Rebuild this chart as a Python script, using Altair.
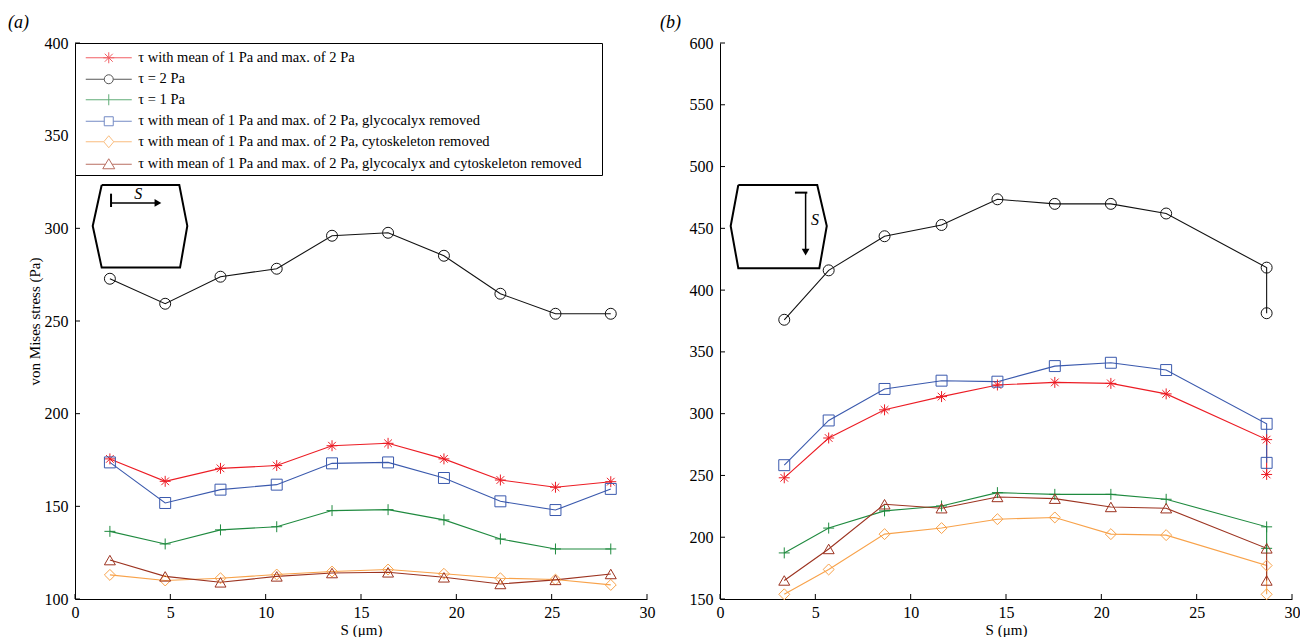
import altair as alt
import pandas as pd

FONT = "Liberation Serif"
W, H = 572, 556

# ---- series ----
SERIES = [
    "τ with mean of 1 Pa and max. of 2 Pa",
    "τ = 2 Pa",
    "τ = 1 Pa",
    "τ with mean of 1 Pa and max. of 2 Pa, glycocalyx removed",
    "τ with mean of 1 Pa and max. of 2 Pa, cytoskeleton removed",
    "τ with mean of 1 Pa and max. of 2 Pa, glycocalyx and cytoskeleton removed",
]
COLORS = ["#ec1c24", "#111111", "#1f8a3f", "#3a59ad", "#f8a24a", "#9c3320"]
ASTER = "M-1,0L1,0M0,-1L0,1M-0.7,-0.7L0.7,0.7M-0.7,0.7L0.7,-0.7"
PLUS = "M-1,0L1,0M0,-1L0,1"
SHAPES = [ASTER, "circle", PLUS, "square", "diamond", "triangle-up"]
LEGEND_SHAPES = [
    "M-2.3,0L2.3,0M0,-0.55L0,0.55M-0.4,-0.4L0.4,0.4M-0.4,0.4L0.4,-0.4M-0.55,0L0.55,0",
    "M-2.3,0L-0.45,0M0.45,0L2.3,0M0.45,0A0.45,0.45,0,1,1,-0.45,0A0.45,0.45,0,1,1,0.45,0",
    "M-2.3,0L2.3,0M0,-0.55L0,0.55",
    "M-2.3,0L-0.45,0M0.45,0L2.3,0M-0.45,-0.45L0.45,-0.45L0.45,0.45L-0.45,0.45Z",
    "M-2.3,0L-0.5,0M0.5,0L2.3,0M-0.5,0L0,-0.6L0.5,0L0,0.6Z",
    "M-2.3,0L-0.33,0M0.33,0L2.3,0M0,-0.55L0.6,0.45L-0.6,0.45Z",
]

# ---- panel (a) data ----
A_S = [1.83, 4.73, 7.63, 10.58, 13.48, 16.42, 19.35, 22.31, 25.2, 28.1]
A_RED = [175.6, 163.5, 170.5, 172.0, 182.7, 184.0, 175.6, 164.2, 160.3, 163.3]
A_BLACK = [272.8, 259.3, 273.9, 278.2, 296.0, 297.6, 285.2, 264.7, 253.9, 253.9]
A_GREEN = [136.5, 129.7, 137.3, 139.0, 147.7, 148.2, 142.7, 132.4, 127.0, 127.0]
A_BLUE = [173.7, 151.8, 159.0, 161.7, 173.2, 173.7, 165.3, 152.7, 148.0, 159.4]
A_ORANGE = [113.0, 110.0, 111.2, 113.2, 114.8, 115.9, 113.6, 111.2, 110.5, 107.6]
A_BROWN = [121.0, 112.2, 109.0, 112.2, 114.0, 114.4, 111.7, 108.1, 110.3, 113.5]

# ---- panel (b) data ----
B_S = [3.37, 5.7, 8.63, 11.62, 14.55, 17.56, 20.5, 23.4, 28.67, 28.67]
B_RED = [248.1, 280.3, 303.1, 313.8, 323.2, 325.3, 324.5, 316.0, 279.0, 250.8]
B_BLACK = [376.0, 416.0, 443.6, 452.7, 473.5, 469.8, 469.8, 462.0, 418.2, 381.3]
B_GREEN = [187.3, 207.4, 221.3, 225.3, 236.1, 234.7, 234.7, 230.7, 208.4, 191.0]
B_BLUE = [258.3, 294.5, 320.0, 326.7, 325.9, 338.5, 341.2, 335.3, 291.8, 260.2]
B_ORANGE = [153.8, 173.9, 202.5, 207.4, 214.6, 216.0, 202.5, 201.7, 177.1, 153.8]
B_BROWN = [165.0, 190.5, 226.7, 223.5, 232.6, 231.2, 224.5, 223.5, 191.0, 165.0]

X_TICKS = [0, 5, 10, 15, 20, 25, 30]
A_Y_TICKS = [100, 150, 200, 250, 300, 350, 400]
B_Y_TICKS = [150, 200, 250, 300, 350, 400, 450, 500, 550, 600]

# ---- inset diagrams (data units of each panel) ----
A_HEX_X = [1.40, 5.47, 5.89, 5.51, 1.40, 0.93, 1.40]
A_HEX_Y = [323.4, 323.4, 301.3, 278.8, 278.8, 301.3, 323.4]
A_BAR_X = [1.89, 1.89]
A_BAR_Y = [318.7, 311.5]
A_ARROW_X = [1.89, 4.2]
A_ARROW_Y = [313.7, 313.7]
A_HEAD = (4.35, 313.7)
A_LABEL = (3.32, 318.6)

B_HEX_X = [0.96, 5.10, 5.60, 5.21, 0.96, 0.56, 0.96]
B_HEX_Y = [485.1, 485.1, 451.9, 417.7, 417.7, 451.9, 485.1]
B_BAR_X = [3.93, 4.58]
B_BAR_Y = [478.9, 478.9]
B_ARROW_X = [4.49, 4.49]
B_ARROW_Y = [478.9, 433.0]
B_HEAD = (4.49, 430.8)
B_LABEL = (4.98, 456.5)


def long_df(xs, cols):
    rows = []
    for name, vals in zip(SERIES, cols):
        for i, (x, v) in enumerate(zip(xs, vals)):
            rows.append({"series": name, "S": x, "stress": v, "idx": i})
    return pd.DataFrame(rows)


def panel(df, ydom, yticks, hx, hy, bx, by, ax, ay, head, head_shape, lab,
          ytitle, tag, tag_dx, legend):
    xs = alt.Scale(domain=[0, 30], nice=False, zero=False)
    ys = alt.Scale(domain=ydom, nice=False, zero=False)
    xaxis = alt.Axis(values=X_TICKS, title="S (μm)", ticks=False, grid=False,
                     domainColor="black", domainWidth=1, labelFont=FONT,
                     labelFontSize=16, labelColor="black", labelPadding=5,
                     titleFont=FONT, titleFontSize=15, titleFontWeight="normal",
                     titleColor="black", titlePadding=2, labelFlush=False)
    yaxis = alt.Axis(values=yticks, title=ytitle, ticks=False, grid=False,
                     domainColor="black", domainWidth=1, labelFont=FONT,
                     labelFontSize=16, labelColor="black", labelPadding=7,
                     titleFont=FONT, titleFontSize=15, titleFontWeight="normal",
                     titleColor="black", titlePadding=2)
    X = alt.X("S:Q", scale=xs, axis=xaxis)
    Y = alt.Y("stress:Q", scale=ys, axis=yaxis)
    cscale = alt.Scale(domain=SERIES, range=COLORS)

    lines = alt.Chart(df).mark_line(strokeWidth=1.1).encode(
        x=X, y=Y,
        color=alt.Color("series:N", scale=cscale, legend=None),
        detail="series:N", order="idx:Q")
    points = alt.Chart(df).mark_point(filled=False, strokeWidth=1, size=120, opacity=1).encode(
        x=X, y=Y,
        color=alt.Color("series:N", scale=cscale, legend=None),
        shape=alt.Shape("series:N", scale=alt.Scale(domain=SERIES, range=SHAPES), legend=None))

    ytk = pd.DataFrame({"v": yticks})
    xtk = pd.DataFrame({"v": X_TICKS})
    yt = alt.Chart(ytk).mark_rule(color="black", strokeWidth=1).encode(
        y=alt.Y("v:Q", scale=ys, axis=yaxis), x=alt.value(0), x2=alt.value(5))
    xt = alt.Chart(xtk).mark_rule(color="black", strokeWidth=1).encode(
        x=alt.X("v:Q", scale=xs, axis=xaxis), y=alt.value(H), y2=alt.value(H - 5))

    hexdf = pd.DataFrame({"x": hx, "y": hy, "i": list(range(len(hx)))})
    hexl = alt.Chart(hexdf).mark_line(color="black", strokeWidth=2).encode(
        x=alt.X("x:Q", scale=xs, axis=xaxis), y=alt.Y("y:Q", scale=ys, axis=yaxis), order="i:Q")
    bardf = pd.DataFrame({"x": bx, "y": by, "i": [0, 1]})
    bar = alt.Chart(bardf).mark_line(color="black", strokeWidth=2).encode(
        x=alt.X("x:Q", scale=xs, axis=xaxis), y=alt.Y("y:Q", scale=ys, axis=yaxis), order="i:Q")
    arrdf = pd.DataFrame({"x": ax, "y": ay, "i": [0, 1]})
    arr = alt.Chart(arrdf).mark_line(color="black", strokeWidth=1.5).encode(
        x=alt.X("x:Q", scale=xs, axis=xaxis), y=alt.Y("y:Q", scale=ys, axis=yaxis), order="i:Q")
    headdf = pd.DataFrame({"x": [head[0]], "y": [head[1]]})
    hd = alt.Chart(headdf).mark_point(shape=head_shape, filled=True, color="black",
                                      size=60, opacity=1).encode(
        x=alt.X("x:Q", scale=xs, axis=xaxis), y=alt.Y("y:Q", scale=ys, axis=yaxis))
    labdf = pd.DataFrame({"x": [lab[0]], "y": [lab[1]], "t": ["S"]})
    lb = alt.Chart(labdf).mark_text(font=FONT, fontSize=16, fontStyle="italic",
                                    color="black").encode(
        x=alt.X("x:Q", scale=xs, axis=xaxis), y=alt.Y("y:Q", scale=ys, axis=yaxis), text="t:N")

    layers = [lines, points, yt, xt, hexl, bar, arr, hd, lb]
    if legend:
        leg = alt.Legend(title="\u00a0", titleOrient="right", titlePadding=16,
                         titleFont=FONT, titleFontSize=10,
                         orient="none", legendX=0, legendY=0,
                         strokeColor="black", fillColor="white", padding=4.25,
                         symbolSize=400, symbolStrokeWidth=1, symbolOffset=19,
                         labelOffset=19, labelFont=FONT, labelFontSize=14.5,
                         labelColor="black", labelLimit=800, rowPadding=3.5,
                         cornerRadius=0)
        legdf = pd.DataFrame({"series": SERIES})
        hidden = alt.Chart(legdf).transform_filter("false").mark_point(
            filled=False, size=400, strokeWidth=1).encode(
            color=alt.Color("series:N", scale=alt.Scale(domain=SERIES, range=COLORS), legend=leg),
            shape=alt.Shape("series:N", scale=alt.Scale(domain=SERIES, range=LEGEND_SHAPES), legend=leg))
        layers.append(hidden)
    ch = alt.layer(*layers).properties(
        width=W, height=H,
        title=alt.TitleParams(text=tag, anchor="start", frame="group", dx=tag_dx,
                              font=FONT, fontSize=18, fontStyle="italic",
                              fontWeight="normal", color="black", offset=3))
    if legend:
        ch = ch.resolve_scale(color="independent", shape="independent")
    return ch


dfa = long_df(A_S, [A_RED, A_BLACK, A_GREEN, A_BLUE, A_ORANGE, A_BROWN])
dfb = long_df(B_S, [B_RED, B_BLACK, B_GREEN, B_BLUE, B_ORANGE, B_BROWN])

pa = panel(dfa, [100, 400], A_Y_TICKS, A_HEX_X, A_HEX_Y, A_BAR_X, A_BAR_Y,
           A_ARROW_X, A_ARROW_Y, A_HEAD, "triangle-right", A_LABEL,
           "von Mises stress (Pa)", "(a)", -67, True)
pb = panel(dfb, [150, 600], B_Y_TICKS, B_HEX_X, B_HEX_Y, B_BAR_X, B_BAR_Y,
           B_ARROW_X, B_ARROW_Y, B_HEAD, "triangle-down", B_LABEL,
           "", "(b)", -60, False)

chart = alt.hconcat(pa, pb, spacing=73, bounds="flush").properties(
    padding={"left": 8, "top": 14, "right": 0, "bottom": 0},
    background="white",
).configure_view(stroke=None)

chart.save("out.html", embed_options={"renderer": "svg", "actions": False})
